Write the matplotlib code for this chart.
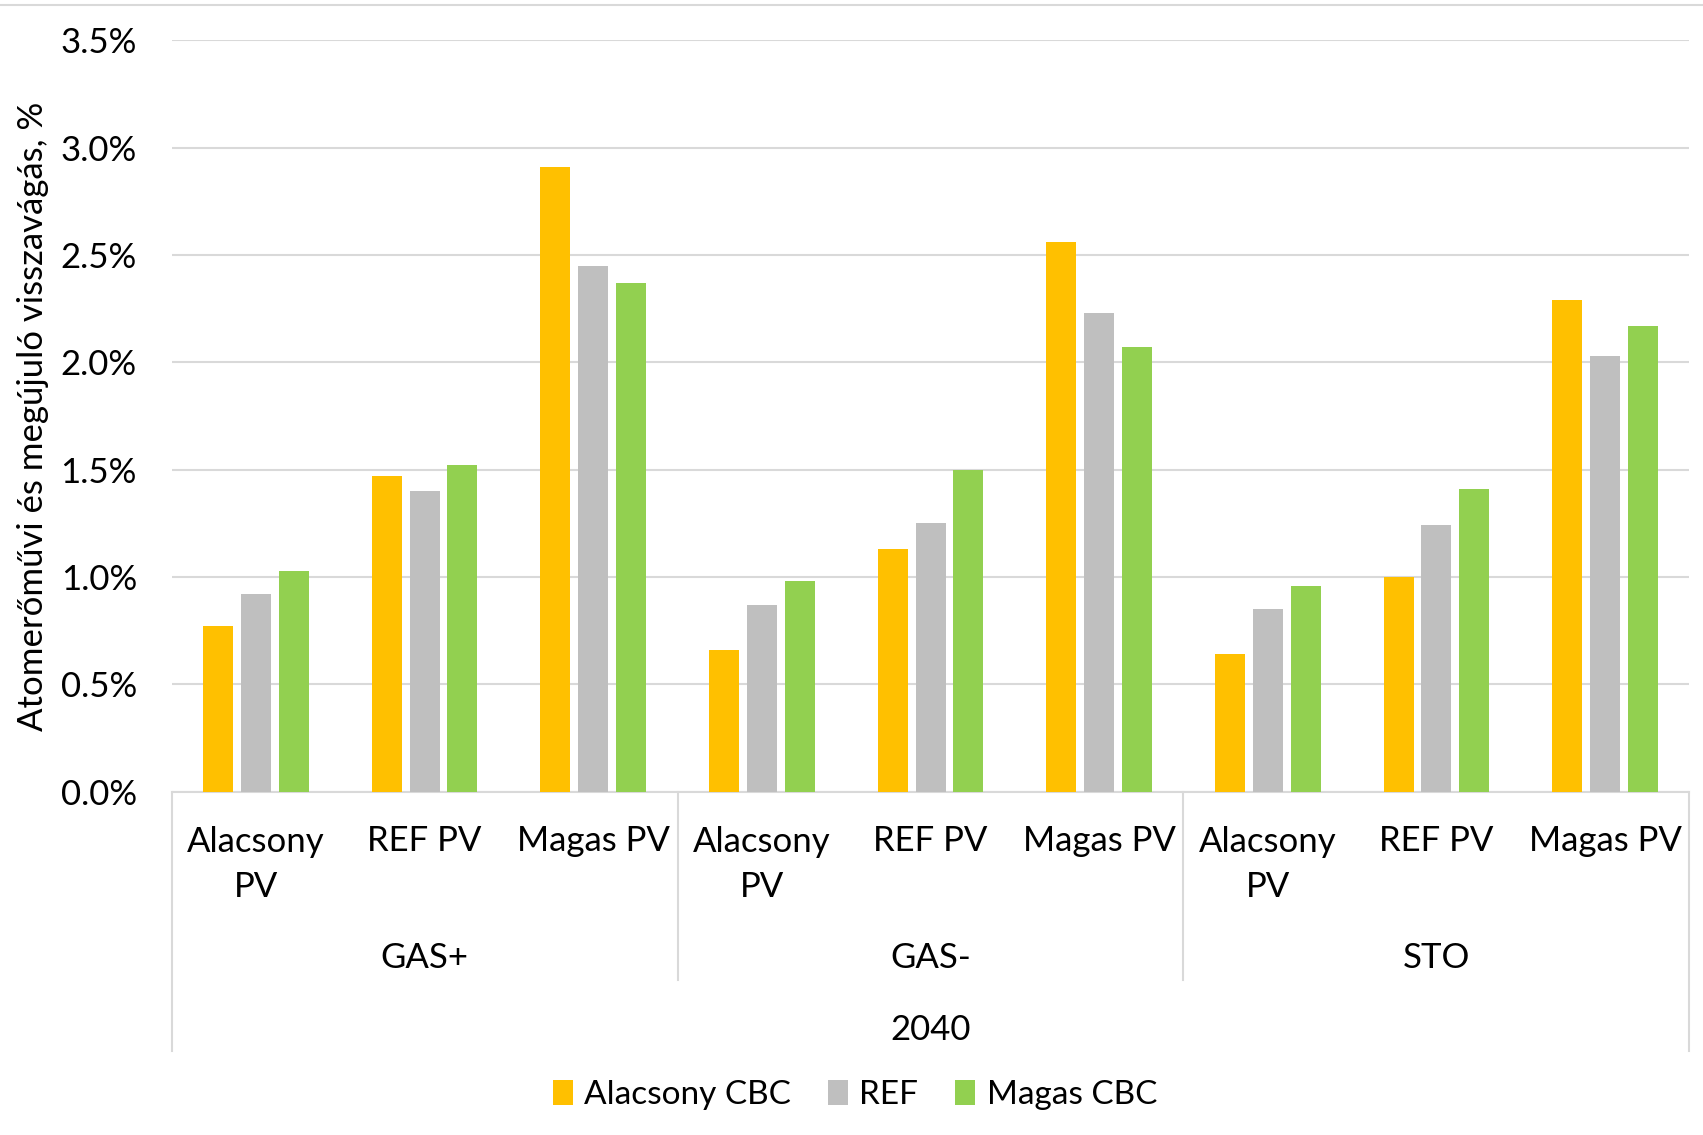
import matplotlib
matplotlib.use("Agg")
import matplotlib.pyplot as plt
from matplotlib.lines import Line2D
from matplotlib.patches import Patch
import numpy as np

plt.rcParams['font.family'] = ['Lato', 'DejaVu Sans']

# category levels
scenarios = ['GAS+', 'GAS-', 'STO']
pv_cases = ['Alacsony\nPV', 'REF PV', 'Magas PV']
year = '2040'

series_names = ['Alacsony CBC', 'REF', 'Magas CBC']
# values in %
alacsony_cbc = [0.77, 1.47, 2.91, 0.66, 1.13, 2.56, 0.64, 1.00, 2.29]
ref = [0.92, 1.40, 2.45, 0.87, 1.25, 2.23, 0.85, 1.24, 2.03]
magas_cbc = [1.03, 1.52, 2.37, 0.98, 1.50, 2.07, 0.96, 1.41, 2.17]

colors = ['#FFC000', '#BFBFBF', '#92D050']
grid_c = '#D9D9D9'
fs = 25

fig = plt.figure(figsize=(17.03, 11.35), dpi=100)
ax = fig.add_axes([0.1008, 0.3025, 0.8912, 0.6621])

x = np.arange(9)
step = 0.224
for i, (vals, c) in enumerate(zip([alacsony_cbc, ref, magas_cbc], colors)):
    ax.bar(x + (i - 1) * step, vals, width=0.178, color=c, zorder=3)

ax.set_xlim(-0.5, 8.5)
ax.set_ylim(0, 3.5)
ax.set_yticks(np.arange(0, 3.51, 0.5))
ax.set_yticklabels([f'{v:.1f}%' for v in np.arange(0, 3.51, 0.5)], fontsize=fs)
ax.tick_params(axis='y', length=0, pad=25)
ax.set_xticks([])
ax.grid(axis='y', color=grid_c, lw=1.5, zorder=0)
for s in ['top', 'right', 'left']:
    ax.spines[s].set_visible(False)
ax.spines['bottom'].set_color(grid_c)
ax.spines['bottom'].set_linewidth(1.5)

ax.set_ylabel('Atomerőművi és megújuló visszavágás, %', fontsize=fs)
ax.yaxis.set_label_coords(-0.081, 0.5)

# multi-level category axis
tr = ax.get_xaxis_transform()
for k in range(9):
    lbl = pv_cases[k % 3]
    y = -0.097 if '\n' in lbl else -0.065
    ax.text(k, y, lbl, transform=tr, ha='center', va='center', fontsize=fs,
            linespacing=1.5, clip_on=False)
for g, name in enumerate(scenarios):
    ax.text(3 * g + 1, -0.2215, name, transform=tr, ha='center', va='center',
            fontsize=fs, clip_on=False)
ax.text(4, -0.3165, year, transform=tr, ha='center', va='center', fontsize=fs,
        clip_on=False)
for xs in [2.5, 5.5]:
    ax.add_line(Line2D([xs, xs], [0, -0.251], transform=tr, color=grid_c,
                       lw=1.5, clip_on=False))
for xs in [-0.5, 8.5]:
    ax.add_line(Line2D([xs, xs], [0, -0.345], transform=tr, color=grid_c,
                       lw=1.5, clip_on=False))

# thin border at top of the chart area
fig.add_artist(Line2D([0, 1], [1 - 5 / 1135] * 2, transform=fig.transFigure,
                      color=grid_c, lw=1.5))

handles = [Patch(facecolor=c, edgecolor='none') for c in colors]
fig.legend(handles, series_names, loc='center', bbox_to_anchor=(0.502, 0.0355),
           ncol=3, frameon=False, fontsize=24, handlelength=0.6,
           handleheight=0.8, handletextpad=0.35, columnspacing=1.1)

fig.savefig('out.png', dpi=100, facecolor='white')
